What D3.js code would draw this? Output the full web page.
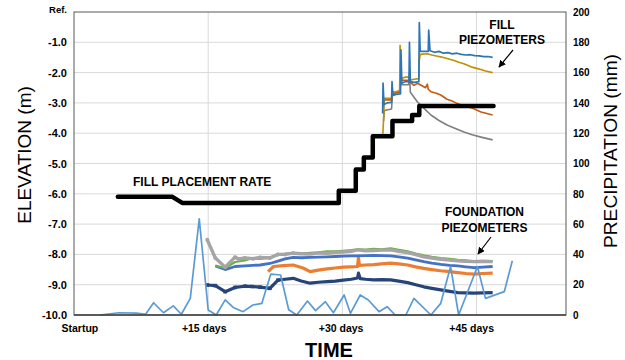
<!DOCTYPE html>
<html>
<head>
<meta charset="utf-8">
<script src="https://cdn.jsdelivr.net/npm/d3@7"></script>
<style>
  html, body { margin: 0; padding: 0; background: #fff; }
  svg { display: block; }
  text { font-family: "Liberation Sans", Arial, sans-serif; fill: #000; }
</style>
</head>
<body>
<svg id="chart" width="625" height="360"></svg>
<script>
// ---- data -------------------------------------------------------------
// time in days since startup; elevations in metres; precipitation in mm
const elevTicks = [0, -1, -2, -3, -4, -5, -6, -7, -8, -9, -10];
const precipTicks = [0, 20, 40, 60, 80, 100, 120, 140, 160, 180, 200];
const timeLabels = ["Startup", "+15 days", "+30 days", "+45 days"];
const timeLabelDays = [0.6, 14.5, 29.8, 44.4];
const timeGridDays = [15, 30, 45];

// fill placement rate (elevation of fill surface)
const fillRate = [[4.9,-6.1],[11.0,-6.1],[12.1,-6.3],[29.6,-6.3],[29.6,-5.9],[31.5,-5.9],[31.5,-5.2],
  [32.4,-5.2],[32.4,-4.8],[33.4,-4.8],[33.4,-4.1],[35.6,-4.1],[35.6,-3.6],[37.8,-3.6],[37.8,-3.4],
  [38.6,-3.4],[38.6,-3.1],[46.9,-3.1]];

// fill piezometers
const fillPzBlue = [[34.5,-3.35],[34.55,-2.35],[34.65,-3.05],[35.0,-3.0],[35.5,-2.98],[35.55,-2.3],[35.65,-2.75],
  [36.0,-2.72],[36.5,-2.7],[36.55,-1.25],[36.65,-2.35],[37.0,-2.3],[37.45,-2.3],[37.5,-1.0],[37.6,-2.3],
  [38.0,-2.32],[38.55,-2.3],[38.6,-0.35],[38.7,-1.3],[39.2,-1.3],[39.6,-1.3],[39.65,-0.6],[39.8,-1.28],
  [40.3,-1.33],[40.8,-1.3],[41.3,-1.36],[41.8,-1.34],[42.3,-1.38],[42.8,-1.36],[43.3,-1.4],[43.8,-1.42],
  [44.3,-1.41],[44.8,-1.44],[45.3,-1.45],[45.8,-1.47],[46.3,-1.47],[46.8,-1.5]];
const fillPzGold = [[34.5,-4.15],[34.6,-3.6],[34.7,-2.85],[35.5,-2.85],[35.55,-2.55],[35.65,-2.65],[36.4,-2.6],
  [36.45,-1.1],[36.55,-2.2],[37.0,-2.15],[37.5,-2.15],[37.55,-2.25],[38.0,-2.22],[38.55,-2.2],[38.6,-1.6],
  [38.7,-1.4],[39.5,-1.38],[40.0,-1.42],[40.5,-1.45],[41.0,-1.48],[41.5,-1.52],[42.0,-1.56],[42.5,-1.6],
  [43.0,-1.66],[43.5,-1.7],[44.0,-1.76],[44.5,-1.82],[45.0,-1.86],[45.5,-1.9],[46.0,-1.95],[46.8,-2.0]];
const fillPzRust = [[34.6,-3.15],[34.7,-2.9],[35.5,-2.9],[35.6,-2.7],[36.4,-2.65],[36.5,-2.25],[37.4,-2.25],
  [37.5,-2.3],[38.0,-2.42],[38.4,-2.35],[38.7,-2.4],[39.3,-2.5],[39.5,-2.38],[39.6,-2.55],[39.9,-2.63],
  [40.5,-2.68],[41.0,-2.74],[41.7,-2.88],[42.2,-2.93],[42.7,-3.0],[43.6,-3.1],[44.5,-3.17],[45.5,-3.3],
  [46.8,-3.4]];
const fillPzGray = [[34.6,-3.6],[34.7,-3.25],[35.5,-3.2],[35.6,-2.7],[36.4,-2.6],[36.5,-2.4],[37.4,-2.4],
  [37.5,-2.0],[37.6,-2.65],[38.4,-2.97],[39.1,-3.17],[39.9,-3.4],[40.8,-3.58],[41.7,-3.73],[42.7,-3.85],
  [43.6,-3.96],[44.5,-4.05],[45.5,-4.13],[46.8,-4.22]];

// foundation piezometers
const fndGreen = [[15.8,-8.38],[16.9,-8.45],[18.0,-8.25],[19.1,-8.2],[20.0,-8.12],[20.8,-8.15],[21.9,-8.1],
  [22.8,-8.0],[23.6,-7.98],[24.5,-7.95],[25.4,-7.97],[26.4,-7.95],[27.3,-7.93],[28.3,-7.9],[29.2,-7.9],
  [30.1,-7.88],[31.0,-7.86],[31.7,-7.83],[32.6,-7.84],[33.5,-7.82],[34.4,-7.83],[35.4,-7.8],[36.3,-7.85],
  [37.3,-7.9],[38.2,-7.97],[39.1,-8.03],[40.0,-8.08],[41.0,-8.12],[42.0,-8.15],[42.9,-8.18],[43.8,-8.2],
  [44.7,-8.22],[45.7,-8.21],[46.8,-8.22]];
const fndGray = [[14.9,-7.52],[15.8,-8.12],[16.9,-8.42],[18.0,-8.09],[18.4,-8.15],[19.1,-8.12],[20.0,-8.14],
  [20.8,-8.1],[21.9,-8.12],[22.8,-8.0],[23.6,-8.0],[24.5,-7.96],[25.4,-7.98],[26.4,-7.99],[27.3,-7.95],
  [28.3,-7.96],[29.2,-7.93],[30.1,-7.92],[31.0,-7.9],[31.7,-7.85],[32.6,-7.88],[33.5,-7.87],[34.4,-7.86],
  [35.4,-7.85],[36.3,-7.9],[37.3,-7.94],[38.2,-8.01],[39.1,-8.08],[40.0,-8.12],[41.0,-8.16],[42.0,-8.19],
  [42.9,-8.21],[43.8,-8.23],[44.7,-8.24],[45.7,-8.23],[46.8,-8.24]];
const fndBlue = [[15.8,-8.38],[16.9,-8.5],[18.0,-8.4],[19.1,-8.38],[20.0,-8.36],[20.8,-8.35],[21.9,-8.3],
  [22.8,-8.22],[23.6,-8.15],[24.5,-8.1],[25.4,-8.11],[26.4,-8.1],[27.3,-8.09],[28.3,-8.08],[29.2,-8.07],
  [30.1,-8.06],[31.0,-8.05],[31.7,-8.05],[32.6,-8.04],[33.5,-8.03],[34.4,-8.04],[35.4,-8.05],[36.3,-8.08],
  [37.3,-8.12],[38.2,-8.18],[39.1,-8.24],[40.0,-8.29],[41.0,-8.33],[42.0,-8.36],[42.9,-8.38],[43.8,-8.41],
  [44.7,-8.44],[45.7,-8.42],[46.8,-8.4]];
const fndOrange = [[21.7,-8.57],[22.3,-8.4],[23.4,-8.37],[24.5,-8.35],[25.6,-8.45],[26.4,-8.57],[27.3,-8.52],
  [28.3,-8.48],[29.2,-8.45],[30.1,-8.42],[31.0,-8.41],[31.7,-8.4],[31.8,-8.12],[31.9,-8.36],[32.6,-8.35],
  [33.5,-8.34],[34.4,-8.31],[35.4,-8.29],[36.3,-8.31],[37.3,-8.35],[38.2,-8.41],[39.1,-8.46],[40.0,-8.5],
  [41.0,-8.54],[42.0,-8.57],[42.9,-8.6],[43.8,-8.63],[44.7,-8.65],[45.7,-8.63],[46.8,-8.62]];
const fndNavy = [[14.9,-9.01],[15.8,-9.03],[16.9,-9.23],[18.0,-9.09],[19.1,-9.05],[19.9,-9.06],[20.8,-9.08],
  [21.9,-9.12],[22.8,-8.85],[23.6,-8.82],[24.5,-8.79],[25.4,-8.88],[26.4,-8.95],[27.3,-8.92],[28.3,-8.9],
  [29.2,-8.88],[30.1,-8.85],[31.0,-8.82],[31.7,-8.78],[31.8,-8.62],[32.0,-8.8],[32.6,-8.82],[33.5,-8.84],
  [34.4,-8.83],[35.4,-8.84],[36.3,-8.88],[37.3,-8.93],[38.2,-9.0],[39.1,-9.07],[40.0,-9.12],[41.0,-9.17],
  [42.0,-9.22],[42.9,-9.26],[43.8,-9.27],[44.7,-9.28],[45.7,-9.27],[46.8,-9.26]];

// daily precipitation (mm)
const precip = [[2.9,0],[5.0,1.5],[7.0,1.2],[8.0,0.5],[8.9,8.1],[10.0,1.5],[11.1,6.0],[12.0,0.5],[13.0,11],
  [14.0,63.5],[15.0,3.3],[15.9,0],[16.9,10],[17.8,5],[18.9,2.2],[20.0,6.6],[21.0,7.7],[22.0,27],[23.1,26.4],
  [24.0,3.5],[24.9,0],[26.1,9.2],[27.0,2.9],[28.1,8.8],[29.0,1.5],[30.2,13.2],[30.9,1.1],[32.0,13.2],
  [32.9,9.9],[34.1,2.2],[35.0,5.5],[35.9,0],[37.1,0],[38.0,11],[39.9,0],[41.0,7.7],[42.1,32],[43.0,0],
  [45.1,32],[46.0,11],[48.1,15.4],[49.0,35.8]];

// ---- drawing ----------------------------------------------------------
const svg = d3.select("#chart");
const plot = { left: 74, right: 566, top: 12, bottom: 315 };

const x = d3.scaleLinear().domain([0, 55]).range([plot.left, plot.right]);
const yL = d3.scaleLinear().domain([-10, 0]).range([plot.bottom, plot.top]);
const yR = d3.scaleLinear().domain([0, 200]).range([plot.bottom, plot.top]);

// gridlines
const grid = svg.append("g");
grid.selectAll("line.h").data(elevTicks.filter(v => v > -10 && v < 0)).join("line")
  .attr("x1", plot.left).attr("x2", plot.right)
  .attr("y1", d => yL(d)).attr("y2", d => yL(d))
  .attr("stroke", "#d9d9d9").attr("stroke-width", 1);
grid.selectAll("line.v").data(timeGridDays).join("line")
  .attr("x1", d => x(d)).attr("x2", d => x(d))
  .attr("y1", plot.top).attr("y2", plot.bottom)
  .attr("stroke", "#d9d9d9").attr("stroke-width", 1);

// left axis labels
const leftAxis = d3.axisLeft(yL).tickValues(elevTicks).tickSize(0).tickPadding(7)
  .tickFormat(d => d === 0 ? "Ref." : d3.format(".1f")(d).replace("\u2212", "-"));
const gL = svg.append("g").attr("transform", `translate(${plot.left},0)`).call(leftAxis);
gL.select(".domain").remove();
gL.selectAll("text").attr("font-size", 11).attr("font-weight", "bold")
  .style("font-family", "'Liberation Sans', Arial, sans-serif");
gL.selectAll("text").filter(d => d === 0).attr("font-size", 9.5).attr("dy", "0.1em");

// right axis labels
const rightAxis = d3.axisRight(yR).tickValues(precipTicks).tickSize(0).tickPadding(7);
const gR = svg.append("g").attr("transform", `translate(${plot.right},0)`).call(rightAxis);
gR.select(".domain").remove();
gR.selectAll("text").attr("font-size", 10).attr("font-weight", "bold")
  .style("font-family", "'Liberation Sans', Arial, sans-serif");

// bottom labels
const bottomAxis = d3.axisBottom(x).tickValues(timeLabelDays).tickSize(0).tickPadding(10)
  .tickFormat((d, i) => timeLabels[i]);
const gB = svg.append("g").attr("transform", `translate(0,${plot.bottom})`).call(bottomAxis);
gB.select(".domain").remove();
gB.selectAll("text").attr("font-size", 10.5).attr("font-weight", "bold")
  .style("font-family", "'Liberation Sans', Arial, sans-serif");

// axis titles
svg.append("text").attr("transform", `translate(31,155) rotate(-90)`)
  .attr("text-anchor", "middle").attr("font-size", 19).text("ELEVATION (m)");
svg.append("text").attr("transform", `translate(617,151) rotate(-90)`)
  .attr("text-anchor", "middle").attr("font-size", 19)
  .attr("textLength", 194).attr("lengthAdjust", "spacingAndGlyphs").text("PRECIPITATION (mm)");
svg.append("text").attr("x", 329).attr("y", 357)
  .attr("text-anchor", "middle").attr("font-size", 20).attr("font-weight", "bold").text("TIME");

// series
const lineL = d3.line().x(d => x(d[0])).y(d => yL(d[1]));
const lineR = d3.line().x(d => x(d[0])).y(d => yR(d[1]));

const lines = svg.append("g").attr("fill", "none").attr("stroke-linejoin", "round");

function draw(data, gen, color, width) {
  lines.append("path").datum(data).attr("d", gen)
    .attr("stroke", color).attr("stroke-width", width);
}

// foundation piezometers
draw(fndNavy, lineL, "#264478", 3.2);
draw(fndOrange, lineL, "#ED7D31", 3.2);
draw(fndBlue, lineL, "#4472C4", 2.8);
draw(fndGreen, lineL, "#70AD47", 2.2);
draw(fndGray, lineL, "#A5A5A5", 3.4);

// small markers on the early readings
lines.append("g").selectAll("rect").data(fndNavy.filter(d => d[0] < 23)).join("rect")
  .attr("x", d => x(d[0]) - 1.8).attr("y", d => yL(d[1]) - 1.8)
  .attr("width", 3.6).attr("height", 3.6).attr("fill", "#264478").attr("stroke", "none");
lines.append("g").selectAll("circle").data(fndGray.filter(d => d[0] < 25)).join("circle")
  .attr("cx", d => x(d[0])).attr("cy", d => yL(d[1])).attr("r", 2)
  .attr("fill", "#A5A5A5").attr("stroke", "none");

// precipitation
draw(precip, lineR, "#5B9BD5", 1.7);

// fill piezometers
draw(fillPzGray, lineL, "#7F7F7F", 1.6);
draw(fillPzRust, lineL, "#C55A11", 1.6);
draw(fillPzGold, lineL, "#BF9000", 1.6);
draw(fillPzBlue, lineL, "#2E75B6", 1.7);

// fill placement rate
lines.append("path").datum(fillRate).attr("d", lineL)
  .attr("stroke", "#000").attr("stroke-width", 4.5).attr("stroke-linecap", "round");

// plot frame
svg.append("rect").attr("x", plot.left).attr("y", plot.top)
  .attr("width", plot.right - plot.left).attr("height", plot.bottom - plot.top)
  .attr("fill", "none").attr("stroke", "#595959").attr("stroke-width", 1);
svg.append("line").attr("x1", plot.left).attr("x2", plot.right)
  .attr("y1", plot.bottom).attr("y2", plot.bottom).attr("stroke", "#404040").attr("stroke-width", 1.5);

// annotations
svg.append("defs").append("marker").attr("id", "arrow")
  .attr("viewBox", "0 0 10 10").attr("refX", 9).attr("refY", 5)
  .attr("markerWidth", 6).attr("markerHeight", 6).attr("orient", "auto")
  .append("path").attr("d", "M0,0 L10,5 L0,10 z").attr("fill", "#000");

const note = svg.append("g").attr("font-weight", "bold").attr("font-size", 12);
note.append("text").attr("x", 133).attr("y", 186).text("FILL PLACEMENT RATE");
note.append("text").attr("x", 502).attr("y", 28.5).attr("text-anchor", "middle").text("FILL");
note.append("text").attr("x", 502).attr("y", 43.5).attr("text-anchor", "middle").text("PIEZOMETERS");
note.append("text").attr("x", 484.5).attr("y", 215.5).attr("text-anchor", "middle").text("FOUNDATION");
note.append("text").attr("x", 484.5).attr("y", 231.5).attr("text-anchor", "middle").text("PIEZOMETERS");

svg.append("line").attr("x1", 513).attr("y1", 50).attr("x2", 499).attr("y2", 67)
  .attr("stroke", "#000").attr("stroke-width", 1.2).attr("marker-end", "url(#arrow)");
svg.append("line").attr("x1", 491).attr("y1", 237).attr("x2", 478).attr("y2", 254)
  .attr("stroke", "#000").attr("stroke-width", 1.2).attr("marker-end", "url(#arrow)");
</script>
</body>
</html>
